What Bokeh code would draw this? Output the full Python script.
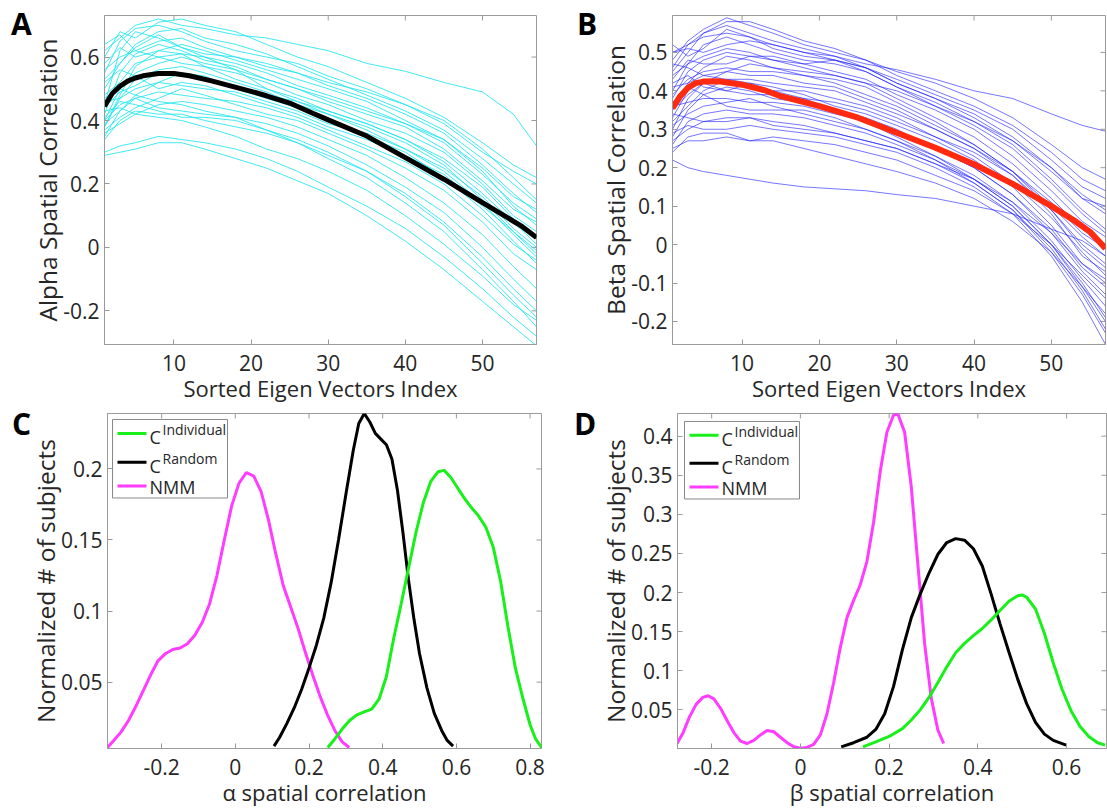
from bokeh.plotting import figure
from bokeh.models import (ColumnDataSource, FixedTicker, Range1d, Label, Div,
                          CustomJSTickFormatter)
from bokeh.layouts import column, row
from bokeh.embed import file_html
from bokeh.resources import INLINE

# ---------------- data ----------------
eig_idx = [1, 3, 5, 8, 11, 14, 18, 22, 26, 30, 35, 40, 45, 50, 54, 57]

alpha_subjects = [
    [0.62, 0.66, 0.70, 0.72, 0.70, 0.69, 0.67, 0.66, 0.64, 0.62, 0.58, 0.555, 0.52, 0.49, 0.42, 0.32],
    [0.60, 0.68, 0.66, 0.71, 0.72, 0.70, 0.68, 0.64, 0.60, 0.57, 0.52, 0.47, 0.41, 0.33, 0.26, 0.22],
    [0.55, 0.65, 0.69, 0.70, 0.68, 0.65, 0.62, 0.60, 0.58, 0.54, 0.50, 0.45, 0.39, 0.30, 0.24, 0.20],
    [0.50, 0.58, 0.64, 0.68, 0.69, 0.66, 0.64, 0.61, 0.57, 0.53, 0.48, 0.43, 0.37, 0.28, 0.20, 0.14],
    [0.45, 0.62, 0.68, 0.66, 0.63, 0.61, 0.60, 0.58, 0.55, 0.51, 0.47, 0.42, 0.36, 0.26, 0.17, 0.11],
    [0.58, 0.63, 0.60, 0.62, 0.64, 0.62, 0.59, 0.56, 0.53, 0.50, 0.46, 0.40, 0.34, 0.25, 0.16, 0.12],
    [0.64, 0.67, 0.62, 0.60, 0.61, 0.60, 0.58, 0.55, 0.51, 0.48, 0.44, 0.39, 0.33, 0.23, 0.14, 0.09],
    [0.42, 0.55, 0.61, 0.64, 0.62, 0.59, 0.57, 0.53, 0.50, 0.46, 0.42, 0.38, 0.31, 0.21, 0.12, 0.08],
    [0.48, 0.52, 0.58, 0.60, 0.58, 0.57, 0.55, 0.52, 0.48, 0.45, 0.40, 0.36, 0.30, 0.20, 0.10, 0.05],
    [0.40, 0.50, 0.55, 0.58, 0.60, 0.58, 0.56, 0.50, 0.47, 0.43, 0.39, 0.34, 0.27, 0.17, 0.08, 0.01],
    [0.38, 0.47, 0.53, 0.56, 0.57, 0.55, 0.52, 0.49, 0.45, 0.42, 0.38, 0.33, 0.26, 0.15, 0.05, -0.01],
    [0.44, 0.49, 0.51, 0.55, 0.54, 0.53, 0.51, 0.48, 0.46, 0.42, 0.37, 0.31, 0.24, 0.14, 0.04, -0.03],
    [0.35, 0.43, 0.48, 0.52, 0.55, 0.54, 0.50, 0.47, 0.44, 0.40, 0.35, 0.30, 0.22, 0.12, 0.02, -0.05],
    [0.46, 0.47, 0.50, 0.52, 0.51, 0.50, 0.49, 0.46, 0.43, 0.39, 0.36, 0.31, 0.25, 0.16, 0.06, 0.00],
    [0.52, 0.56, 0.54, 0.50, 0.52, 0.51, 0.48, 0.45, 0.42, 0.38, 0.34, 0.29, 0.23, 0.13, 0.05, -0.02],
    [0.40, 0.45, 0.47, 0.49, 0.48, 0.47, 0.46, 0.44, 0.41, 0.37, 0.32, 0.27, 0.20, 0.10, 0.01, -0.04],
    [0.37, 0.41, 0.44, 0.47, 0.50, 0.48, 0.45, 0.42, 0.40, 0.36, 0.31, 0.25, 0.18, 0.08, -0.02, -0.07],
    [0.43, 0.44, 0.42, 0.45, 0.46, 0.45, 0.43, 0.41, 0.38, 0.34, 0.29, 0.22, 0.14, 0.04, -0.06, -0.13],
    [0.39, 0.43, 0.47, 0.44, 0.43, 0.42, 0.41, 0.39, 0.36, 0.32, 0.26, 0.19, 0.11, 0.00, -0.10, -0.17],
    [0.34, 0.40, 0.43, 0.42, 0.42, 0.40, 0.38, 0.36, 0.33, 0.29, 0.24, 0.17, 0.08, -0.03, -0.13, -0.20],
    [0.41, 0.46, 0.45, 0.43, 0.41, 0.41, 0.40, 0.37, 0.34, 0.30, 0.24, 0.16, 0.07, -0.05, -0.15, -0.22],
    [0.47, 0.50, 0.48, 0.46, 0.45, 0.43, 0.41, 0.37, 0.33, 0.28, 0.22, 0.14, 0.05, -0.07, -0.17, -0.25],
    [0.30, 0.32, 0.33, 0.35, 0.34, 0.33, 0.31, 0.28, 0.24, 0.19, 0.13, 0.06, -0.03, -0.13, -0.22, -0.28],
    [0.29, 0.30, 0.31, 0.33, 0.33, 0.31, 0.28, 0.25, 0.21, 0.17, 0.10, 0.02, -0.07, -0.17, -0.25, -0.31],
    [0.36, 0.39, 0.42, 0.41, 0.40, 0.38, 0.35, 0.31, 0.28, 0.24, 0.18, 0.10, 0.01, -0.09, -0.18, -0.23],
    [0.56, 0.60, 0.62, 0.65, 0.66, 0.63, 0.60, 0.57, 0.55, 0.52, 0.49, 0.45, 0.40, 0.31, 0.22, 0.15],
    [0.53, 0.58, 0.63, 0.67, 0.63, 0.60, 0.56, 0.53, 0.50, 0.47, 0.43, 0.39, 0.34, 0.24, 0.13, 0.07],
    [0.38, 0.48, 0.57, 0.62, 0.61, 0.57, 0.53, 0.50, 0.46, 0.43, 0.39, 0.34, 0.28, 0.19, 0.09, 0.03],
]

beta_subjects = [
    [0.50, 0.52, 0.54, 0.55, 0.54, 0.52, 0.50, 0.49, 0.47, 0.455, 0.43, 0.40, 0.38, 0.34, 0.31, 0.295],
    [0.48, 0.53, 0.56, 0.59, 0.57, 0.55, 0.52, 0.50, 0.48, 0.45, 0.42, 0.38, 0.33, 0.26, 0.20, 0.17],
    [0.45, 0.50, 0.55, 0.58, 0.58, 0.56, 0.53, 0.51, 0.48, 0.44, 0.40, 0.36, 0.31, 0.24, 0.17, 0.14],
    [0.52, 0.49, 0.51, 0.56, 0.54, 0.51, 0.49, 0.48, 0.46, 0.42, 0.38, 0.33, 0.27, 0.19, 0.12, 0.08],
    [0.40, 0.47, 0.52, 0.54, 0.52, 0.50, 0.48, 0.47, 0.45, 0.41, 0.37, 0.32, 0.26, 0.17, 0.09, 0.04],
    [0.38, 0.45, 0.48, 0.50, 0.49, 0.48, 0.47, 0.48, 0.46, 0.42, 0.38, 0.34, 0.28, 0.20, 0.12, 0.10],
    [0.43, 0.48, 0.47, 0.47, 0.49, 0.49, 0.47, 0.45, 0.43, 0.39, 0.35, 0.30, 0.23, 0.14, 0.06, 0.02],
    [0.35, 0.42, 0.46, 0.49, 0.48, 0.46, 0.45, 0.44, 0.42, 0.38, 0.33, 0.28, 0.21, 0.12, 0.04, 0.00],
    [0.47, 0.46, 0.44, 0.45, 0.47, 0.46, 0.44, 0.42, 0.39, 0.36, 0.31, 0.26, 0.19, 0.10, 0.02, -0.03],
    [0.30, 0.38, 0.42, 0.45, 0.44, 0.44, 0.42, 0.41, 0.38, 0.35, 0.30, 0.25, 0.18, 0.09, 0.00, -0.05],
    [0.33, 0.40, 0.43, 0.42, 0.41, 0.40, 0.40, 0.38, 0.36, 0.33, 0.28, 0.23, 0.16, 0.07, -0.02, -0.08],
    [0.42, 0.44, 0.41, 0.40, 0.42, 0.41, 0.39, 0.36, 0.34, 0.31, 0.27, 0.22, 0.15, 0.05, -0.05, -0.10],
    [0.28, 0.35, 0.39, 0.41, 0.40, 0.38, 0.37, 0.35, 0.33, 0.30, 0.25, 0.20, 0.13, 0.03, -0.07, -0.13],
    [0.36, 0.37, 0.38, 0.38, 0.37, 0.37, 0.36, 0.34, 0.32, 0.29, 0.25, 0.20, 0.13, 0.04, -0.06, -0.11],
    [0.31, 0.34, 0.36, 0.37, 0.38, 0.36, 0.34, 0.32, 0.30, 0.27, 0.23, 0.18, 0.11, 0.01, -0.09, -0.16],
    [0.26, 0.32, 0.34, 0.35, 0.34, 0.34, 0.33, 0.31, 0.29, 0.26, 0.22, 0.17, 0.10, 0.00, -0.10, -0.19],
    [0.34, 0.33, 0.32, 0.33, 0.33, 0.32, 0.31, 0.29, 0.27, 0.25, 0.21, 0.16, 0.09, -0.02, -0.13, -0.23],
    [0.29, 0.31, 0.30, 0.30, 0.31, 0.30, 0.29, 0.28, 0.26, 0.24, 0.20, 0.15, 0.08, -0.03, -0.15, -0.26],
    [0.24, 0.28, 0.29, 0.29, 0.27, 0.28, 0.27, 0.26, 0.24, 0.22, 0.18, 0.14, 0.08, 0.00, -0.08, -0.14],
    [0.25, 0.27, 0.27, 0.28, 0.27, 0.27, 0.25, 0.23, 0.21, 0.19, 0.16, 0.12, 0.06, -0.02, -0.11, -0.18],
    [0.22, 0.20, 0.19, 0.18, 0.17, 0.16, 0.15, 0.145, 0.14, 0.13, 0.12, 0.10, 0.08, 0.04, 0.01, -0.03],
    [0.50, 0.51, 0.50, 0.52, 0.53, 0.52, 0.50, 0.48, 0.45, 0.41, 0.36, 0.31, 0.25, 0.16, 0.08, 0.03],
    [0.46, 0.52, 0.55, 0.57, 0.55, 0.53, 0.51, 0.49, 0.46, 0.43, 0.39, 0.35, 0.30, 0.22, 0.15, 0.12],
    [0.39, 0.43, 0.45, 0.46, 0.45, 0.45, 0.44, 0.43, 0.41, 0.37, 0.32, 0.26, 0.19, 0.09, -0.01, -0.06],
    [0.32, 0.36, 0.40, 0.43, 0.42, 0.40, 0.38, 0.35, 0.32, 0.28, 0.23, 0.17, 0.10, 0.00, -0.11, -0.20],
    [0.37, 0.41, 0.39, 0.36, 0.35, 0.35, 0.35, 0.33, 0.30, 0.27, 0.22, 0.16, 0.09, -0.01, -0.12, -0.22],
    [0.41, 0.42, 0.44, 0.43, 0.43, 0.42, 0.41, 0.40, 0.37, 0.34, 0.30, 0.25, 0.19, 0.11, 0.03, -0.01],
    [0.44, 0.47, 0.49, 0.51, 0.50, 0.48, 0.46, 0.44, 0.42, 0.40, 0.36, 0.32, 0.27, 0.20, 0.13, 0.09],
    [0.27, 0.30, 0.32, 0.32, 0.33, 0.31, 0.30, 0.29, 0.27, 0.25, 0.21, 0.17, 0.11, 0.03, -0.05, -0.09],
    [0.35, 0.39, 0.42, 0.40, 0.39, 0.39, 0.38, 0.37, 0.35, 0.32, 0.28, 0.24, 0.18, 0.08, -0.03, -0.07],
]

alpha_mean_x = [1, 2, 3, 4, 5, 6, 8, 10, 12, 15, 20, 22, 25, 28, 30, 35, 40, 45, 50, 55, 57]
alpha_mean_y = [0.445, 0.485, 0.508, 0.524, 0.534, 0.541, 0.548, 0.548, 0.541, 0.524, 0.492,
                0.478, 0.455, 0.423, 0.402, 0.351, 0.283, 0.215, 0.141, 0.068, 0.031]
beta_mean_x = [1, 2, 3, 4, 5, 7, 10, 13, 15, 20, 25, 30, 35, 40, 45, 50, 53, 55, 57]
beta_mean_y = [0.355, 0.386, 0.408, 0.420, 0.424, 0.425, 0.416, 0.401, 0.386, 0.360, 0.330,
               0.291, 0.252, 0.209, 0.158, 0.100, 0.062, 0.033, -0.010]

# Panel C (alpha) densities
c_nmm_x = [-0.347, -0.33, -0.31, -0.29, -0.27, -0.25, -0.23, -0.21, -0.19, -0.17, -0.15, -0.13,
           -0.11, -0.09, -0.07, -0.05, -0.03, -0.01, 0.01, 0.03, 0.05, 0.07, 0.09, 0.11, 0.13,
           0.15, 0.17, 0.19, 0.21, 0.23, 0.25, 0.27, 0.29, 0.309]
c_nmm_y = [0.004, 0.009, 0.015, 0.023, 0.033, 0.044, 0.055, 0.065, 0.070, 0.073, 0.074, 0.077,
           0.083, 0.092, 0.105, 0.125, 0.150, 0.174, 0.190, 0.1975, 0.195, 0.184, 0.164, 0.140,
           0.118, 0.103, 0.088, 0.071, 0.055, 0.040, 0.027, 0.016, 0.008, 0.004]
c_rand_x = [0.105, 0.12, 0.14, 0.16, 0.18, 0.20, 0.22, 0.24, 0.26, 0.28, 0.30, 0.32, 0.335, 0.35,
            0.365, 0.38, 0.395, 0.41, 0.425, 0.44, 0.455, 0.47, 0.485, 0.50, 0.52, 0.54, 0.56,
            0.575, 0.591]
c_rand_y = [0.005, 0.011, 0.021, 0.032, 0.045, 0.060, 0.076, 0.095, 0.120, 0.150, 0.182, 0.213,
            0.232, 0.239, 0.233, 0.225, 0.221, 0.217, 0.207, 0.185, 0.155, 0.122, 0.094, 0.070,
            0.046, 0.028, 0.016, 0.009, 0.005]
c_ind_x = [0.251, 0.27, 0.29, 0.31, 0.33, 0.35, 0.37, 0.39, 0.41, 0.43, 0.45, 0.47, 0.49, 0.51,
           0.53, 0.55, 0.567, 0.585, 0.60, 0.62, 0.64, 0.66, 0.68, 0.70, 0.72, 0.74, 0.76, 0.78,
           0.80, 0.815, 0.831]
c_ind_y = [0.004, 0.010, 0.017, 0.023, 0.027, 0.029, 0.031, 0.038, 0.054, 0.081, 0.105, 0.130,
           0.155, 0.176, 0.191, 0.198, 0.199, 0.194, 0.188, 0.180, 0.173, 0.167, 0.159, 0.145,
           0.121, 0.089, 0.060, 0.039, 0.020, 0.010, 0.004]

# Panel D (beta) densities
d_nmm_x = [-0.278, -0.265, -0.25, -0.235, -0.22, -0.208, -0.195, -0.18, -0.165, -0.15, -0.135,
           -0.12, -0.105, -0.09, -0.075, -0.06, -0.045, -0.03, -0.015, 0.0, 0.015, 0.03, 0.045,
           0.06, 0.075, 0.09, 0.105, 0.12, 0.135, 0.15, 0.165, 0.18, 0.195, 0.21, 0.22, 0.235,
           0.25, 0.265, 0.28, 0.295, 0.31, 0.323]
d_nmm_y = [0.007, 0.020, 0.041, 0.057, 0.066, 0.068, 0.064, 0.052, 0.036, 0.021, 0.010, 0.007,
           0.011, 0.018, 0.0235, 0.022, 0.015, 0.008, 0.003, 0.001, 0.002, 0.006, 0.018, 0.045,
           0.085, 0.130, 0.168, 0.190, 0.210, 0.240, 0.290, 0.355, 0.405, 0.427, 0.428, 0.405,
           0.335, 0.235, 0.135, 0.065, 0.024, 0.007]
d_rand_x = [0.092, 0.12, 0.15, 0.17, 0.19, 0.21, 0.23, 0.25, 0.27, 0.29, 0.31, 0.33, 0.35, 0.37,
            0.39, 0.41, 0.43, 0.45, 0.47, 0.49, 0.51, 0.53, 0.55, 0.57, 0.599]
d_rand_y = [0.0027, 0.008, 0.015, 0.025, 0.045, 0.080, 0.127, 0.168, 0.198, 0.225, 0.249, 0.264,
            0.269, 0.267, 0.256, 0.234, 0.198, 0.160, 0.124, 0.089, 0.058, 0.034, 0.019, 0.011,
            0.005]
d_ind_x = [0.141, 0.17, 0.20, 0.23, 0.25, 0.27, 0.29, 0.31, 0.33, 0.35, 0.37, 0.39, 0.41, 0.43,
           0.45, 0.47, 0.49, 0.50, 0.51, 0.53, 0.55, 0.57, 0.59, 0.61, 0.63, 0.65, 0.67, 0.687]
d_ind_y = [0.0027, 0.009, 0.016, 0.026, 0.037, 0.050, 0.066, 0.085, 0.105, 0.123, 0.135, 0.145,
           0.154, 0.165, 0.177, 0.189, 0.196, 0.197, 0.194, 0.179, 0.148, 0.110, 0.076, 0.049,
           0.029, 0.016, 0.008, 0.005]

ab_xticks = [10, 20, 30, 40, 50]
a_yticks = [-0.2, 0, 0.2, 0.4, 0.6]
b_yticks = [-0.2, -0.1, 0, 0.1, 0.2, 0.3, 0.4, 0.5]
c_xticks = [-0.2, 0, 0.2, 0.4, 0.6, 0.8]
c_yticks = [0.05, 0.1, 0.15, 0.2]
d_xticks = [-0.2, 0, 0.2, 0.4, 0.6]
d_yticks = [0.05, 0.1, 0.15, 0.2, 0.25, 0.3, 0.35, 0.4]

legend_labels = [("C", "Individual"), ("C", "Random"), ("NMM", "")]

# ---------------- style ----------------
FONT = "Open Sans"
AX_GRAY = "#9a9a9a"
TXT = "#262626"
GREEN = "#19f019"
MAGENTA = "#ff3cff"

fmt = CustomJSTickFormatter(code="return String(tick);")


def make_fig(w, h, fw, fh, bl, bt, xr, yr, xt, yt, xlabel, ylabel):
    p = figure(width=w, height=h, output_backend="svg", toolbar_location=None,
               x_range=Range1d(*xr), y_range=Range1d(*yr),
               min_border_left=bl, min_border_top=bt,
               min_border_right=w - bl - fw, min_border_bottom=h - bt - fh)
    p.grid.visible = False
    p.background_fill_color = "white"
    p.border_fill_color = None
    p.outline_line_color = AX_GRAY
    p.outline_line_width = 1
    for ax, ticks, lab in ((p.xaxis[0], xt, xlabel), (p.yaxis[0], yt, ylabel)):
        ax.ticker = FixedTicker(ticks=ticks)
        ax.formatter = fmt
        ax.axis_label = lab
        ax.axis_line_color = AX_GRAY
        ax.major_tick_line_color = AX_GRAY
        ax.major_tick_in = 5
        ax.major_tick_out = 0
        ax.minor_tick_line_color = None
        ax.major_label_text_font = FONT
        ax.major_label_text_font_size = "21px"
        ax.major_label_text_color = TXT
        ax.axis_label_text_font = FONT
        ax.axis_label_text_font_style = "normal"
        ax.axis_label_text_color = TXT
    p.xaxis[0].axis_label_text_font_size = "22px"
    p.yaxis[0].axis_label_text_font_size = "24.5px"
    p.xaxis[0].major_label_standoff = 10
    p.yaxis[0].major_label_standoff = 5
    p.xaxis[0].axis_label_standoff = -1
    p.yaxis[0].axis_label_standoff = -4
    p._fw = fw
    p._fh = fh
    # inward ticks on the top and right edges of the box
    xr0, xr1 = xr
    yr0, yr1 = yr
    tx = 5.0 / fw * (xr1 - xr0)
    ty = 5.0 / fh * (yr1 - yr0)
    p.segment(x0=xt, x1=xt, y0=[yr1] * len(xt), y1=[yr1 - ty] * len(xt),
              line_color=AX_GRAY, line_width=1)
    p.segment(x0=[xr1] * len(yt), x1=[xr1 - tx] * len(yt), y0=yt, y1=yt,
              line_color=AX_GRAY, line_width=1)
    return p


def px_x(p, dx):
    r = p.x_range
    return r.start + dx / p._fw * (r.end - r.start)


def px_y(p, dy_from_top):
    r = p.y_range
    return r.end - dy_from_top / p._fh * (r.end - r.start)


def letter(txt, w, h, pad_left, pad_top):
    html = ('<div style="font-family:\'Open Sans\'; font-weight:bold; font-size:30px; '
            'line-height:1; color:black; padding-left:%dpx; padding-top:%dpx; '
            'white-space:nowrap; overflow:visible;">%s</div>'
            % (pad_left, pad_top, txt))
    return Div(text=html, width=w, height=h, margin=(0, 0, 0, 0),
               styles={"overflow": "visible"})


def legend(p, left, top, w, h, rows, colors):
    x0, x1 = px_x(p, left), px_x(p, left + w)
    y0, y1 = px_y(p, top), px_y(p, top + h)
    p.quad(left=[x0], right=[x1], top=[y0], bottom=[y1], fill_color="white",
           line_color="#888888", line_width=1)
    for (main, sup), col, cy in zip(legend_labels, colors, rows):
        yy = px_y(p, cy)
        p.line([px_x(p, left + 5), px_x(p, left + 34)], [yy, yy], line_color=col, line_width=3)
        if sup:
            p.add_layout(Label(x=px_x(p, left + 37), y=px_y(p, cy + 4), text=main,
                               text_font=FONT, text_font_size="18px", text_color=TXT,
                               text_baseline="alphabetic"))
            p.add_layout(Label(x=px_x(p, left + 50), y=px_y(p, cy - 4), text=sup,
                               text_font=FONT, text_font_size="14px", text_color=TXT,
                               text_baseline="alphabetic"))
        else:
            p.add_layout(Label(x=px_x(p, left + 37), y=px_y(p, cy + 1), text=main,
                               text_font=FONT, text_font_size="18px", text_color=TXT,
                               text_baseline="alphabetic"))


TOP_H = 405
BOT_H = 404

# ---------------- Panel A ----------------
pA = make_fig(533, TOP_H, 432, 331, 77, 15, (1, 57), (-0.306, 0.731), ab_xticks, a_yticks,
              "Sorted Eigen Vectors Index", "Alpha Spatial Correlation")
srcA = ColumnDataSource(dict(xs=[eig_idx] * len(alpha_subjects), ys=alpha_subjects))
pA.multi_line("xs", "ys", source=srcA, line_color="#1fe6ee", line_width=1, line_alpha=0.85)
pA.line(alpha_mean_x, alpha_mean_y, line_color="black", line_width=5)

# ---------------- Panel B ----------------
pB = make_fig(512, TOP_H, 433, 331, 77, 15, (1, 57), (-0.26, 0.596), ab_xticks, b_yticks,
              "Sorted Eigen Vectors Index", "Beta Spatial Correlation")
srcB = ColumnDataSource(dict(xs=[eig_idx] * len(beta_subjects), ys=beta_subjects))
pB.multi_line("xs", "ys", source=srcB, line_color="#1a1aff", line_width=1, line_alpha=0.6)
pB.line(beta_mean_x, beta_mean_y, line_color="#ff2a10", line_width=6)

# ---------------- Panel C ----------------
pC = make_fig(536, BOT_H, 434, 337, 83, 8, (-0.347, 0.831), (0.0033, 0.239), c_xticks, c_yticks,
              "\u03b1 spatial correlation", "Normalized # of subjects")
pC.line(c_nmm_x, c_nmm_y, line_color=MAGENTA, line_width=3)
pC.line(c_rand_x, c_rand_y, line_color="black", line_width=3)
pC.line(c_ind_x, c_ind_y, line_color=GREEN, line_width=3)
legend(pC, 5, 6, 115, 79, [20, 49, 73], [GREEN, "black", MAGENTA])

# ---------------- Panel D ----------------
pD = make_fig(515, BOT_H, 429, 337, 85, 8, (-0.277, 0.69), (0.0006, 0.429), d_xticks, d_yticks,
              "\u03b2 spatial correlation", "Normalized # of subjects")
pD.line(d_nmm_x, d_nmm_y, line_color=MAGENTA, line_width=3)
pD.line(d_rand_x, d_rand_y, line_color="black", line_width=3)
pD.line(d_ind_x, d_ind_y, line_color=GREEN, line_width=3)
legend(pD, 7, 8, 115, 78, [22, 50, 74], [GREEN, "black", MAGENTA])

layout = column(
    row(letter("A", 27, TOP_H, 11, 9), pA, letter("B", 35, TOP_H, 17, 9), pB),
    row(letter("C", 24, BOT_H, 12, 4), pC, letter("D", 32, BOT_H, 14, 4), pD),
)
open("out.html", "w").write(file_html(layout, INLINE))
